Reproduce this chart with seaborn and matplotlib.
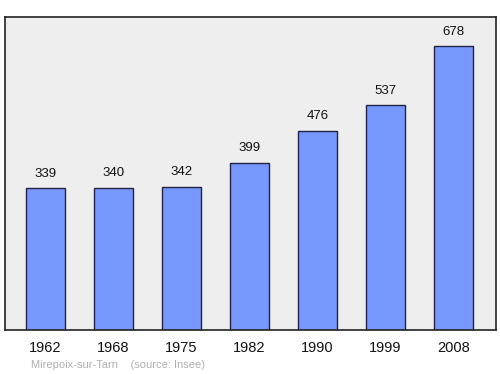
import matplotlib
matplotlib.use("Agg")
import matplotlib.pyplot as plt
import seaborn as sns
import pandas as pd

years = ["1962", "1968", "1975", "1982", "1990", "1999", "2008"]
population = [339, 340, 342, 399, 476, 537, 678]

df = pd.DataFrame({"year": years, "pop": population})

sns.set_theme(style="white")
plt.rcParams['font.family'] = ['Liberation Sans', 'DejaVu Sans']

fig = plt.figure(figsize=(5, 3.74), dpi=100)
ax = fig.add_axes([5/500, 1 - 330/374, 491/500, 313/374])
ax.set_facecolor("#eeeeee")

sns.barplot(data=df, x="year", y="pop", color="#7799ff", saturation=1,
            width=0.574, edgecolor="#222244", linewidth=1.0, ax=ax)

ax.set_xlim(-0.596, 6.625)
ax.set_ylim(0, 747)
for i, v in enumerate(population):
    ax.annotate(str(v), (i, v), xytext=(0, 6), textcoords="offset points",
                ha="center", va="bottom", fontsize=9.5, color="#111111")

ax.set_yticks([])
ax.set_xlabel("")
ax.set_ylabel("")
ax.tick_params(axis="x", length=0, labelsize=10.5, pad=8, colors="#111111")
for s in ax.spines.values():
    s.set_visible(True)
    s.set_color("#222222")
    s.set_linewidth(1.2)

fig.text(31/500, 1 - 365/374, "Mirepoix-sur-Tarn    (source: Insee)",
         fontsize=8, color="#b0b0b0", ha="left", va="center")

fig.savefig("out.png", dpi=100)
